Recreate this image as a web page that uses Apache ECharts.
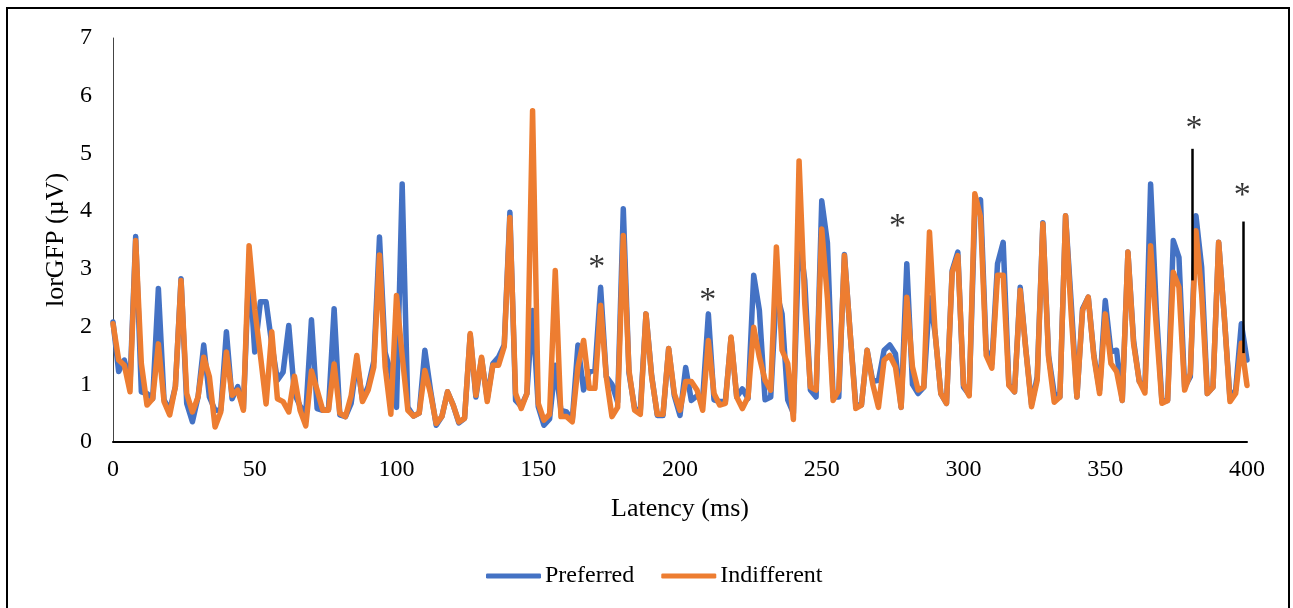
<!DOCTYPE html>
<html>
<head>
<meta charset="utf-8">
<script src="https://cdn.jsdelivr.net/npm/echarts@6/dist/echarts.min.js"></script>
<style>
  html, body { margin: 0; padding: 0; background: #ffffff; }
  #chart { width: 1293px; height: 608px; }
</style>
</head>
<body>
<div id="chart"></div>
<script>
// lorGFP time course, sampled every 2 ms from 0 to 400 ms
const latencyMs = Array.from({ length: 201 }, (_, i) => i * 2);

const preferred = [
  2.08, 1.22, 1.42, 1.00, 3.56, 0.87, 0.84, 0.75, 2.66, 0.73,
  0.55, 0.96, 2.83, 0.67, 0.35, 0.78, 1.68, 0.78, 0.55, 0.55,
  1.91, 0.75, 0.96, 0.58, 3.10, 1.56, 2.43, 2.43, 1.70, 1.07,
  1.21, 2.02, 0.84, 0.62, 0.50, 2.12, 0.58, 0.55, 0.56, 2.31,
  0.47, 0.44, 0.67, 1.40, 0.73, 0.96, 1.40, 3.55, 1.55, 1.20,
  0.60, 4.47, 0.60, 0.45, 0.50, 1.59, 0.90, 0.29, 0.44, 0.87,
  0.64, 0.33, 0.41, 1.86, 0.78, 1.45, 0.75, 1.36, 1.47, 1.68,
  3.98, 0.72, 0.62, 0.84, 2.28, 0.61, 0.29, 0.40, 1.33, 0.55,
  0.52, 0.38, 1.68, 0.90, 1.22, 1.24, 2.68, 1.13, 1.00, 0.69,
  4.04, 1.20, 0.58, 0.55, 2.22, 1.15, 0.46, 0.46, 1.62, 0.80,
  0.46, 1.29, 0.72, 0.80, 0.75, 2.22, 0.73, 0.70, 0.70, 1.80,
  0.78, 0.92, 0.75, 2.89, 2.28, 0.73, 0.78, 2.60, 2.22, 0.73,
  0.50, 3.60, 2.80, 0.90, 0.78, 4.18, 3.45, 0.78, 0.78, 3.25,
  1.90, 0.64, 0.64, 1.59, 1.05, 1.07, 1.59, 1.68, 1.53, 0.60,
  3.09, 1.00, 0.84, 0.95, 2.50, 1.88, 0.84, 0.67, 2.97, 3.29,
  0.95, 0.82, 4.00, 4.20, 1.60, 1.36, 3.09, 3.46, 1.00, 0.87,
  2.68, 1.60, 0.65, 1.13, 3.80, 1.50, 0.84, 0.78, 3.92, 2.40,
  0.78, 2.31, 2.51, 1.50, 0.90, 2.45, 1.56, 1.59, 0.72, 3.29,
  1.75, 1.05, 0.95, 4.47, 2.30, 0.70, 0.72, 3.49, 3.20, 0.95,
  1.13, 3.92, 3.03, 0.84, 0.95, 3.46, 2.17, 0.75, 0.90, 2.05,
  1.42
];

const indifferent = [
  2.05, 1.42, 1.33, 0.87, 3.49, 1.36, 0.64, 0.75, 1.70, 0.70,
  0.47, 0.96, 2.80, 0.84, 0.52, 0.78, 1.47, 1.13, 0.26, 0.52,
  1.56, 0.81, 0.90, 0.55, 3.40, 2.30, 1.50, 0.66, 1.91, 0.75,
  0.70, 0.52, 1.14, 0.55, 0.28, 1.23, 0.90, 0.55, 0.55, 1.35,
  0.50, 0.44, 0.80, 1.50, 0.70, 0.90, 1.30, 3.24, 1.30, 0.48,
  2.54, 1.50, 0.55, 0.45, 0.50, 1.24, 0.84, 0.32, 0.44, 0.87,
  0.64, 0.35, 0.41, 1.88, 0.81, 1.47, 0.70, 1.33, 1.33, 1.65,
  3.89, 0.84, 0.58, 0.84, 5.74, 0.67, 0.38, 0.48, 2.97, 0.44,
  0.44, 0.35, 1.30, 1.76, 0.93, 0.93, 2.37, 1.13, 0.44, 0.60,
  3.58, 1.24, 0.55, 0.48, 2.22, 1.13, 0.48, 0.48, 1.62, 0.84,
  0.55, 1.05, 1.05, 0.90, 0.55, 1.76, 0.84, 0.64, 0.67, 1.82,
  0.78, 0.58, 0.78, 1.99, 1.47, 1.07, 0.90, 3.38, 1.59, 1.36,
  0.39, 4.87, 2.40, 0.95, 0.90, 3.69, 2.50, 0.72, 0.90, 3.23,
  1.90, 0.58, 0.64, 1.59, 1.00, 0.60, 1.42, 1.50, 1.30, 0.60,
  2.51, 1.30, 0.90, 0.95, 3.64, 1.88, 0.84, 0.67, 2.94, 3.23,
  1.00, 0.80, 4.30, 3.90, 1.50, 1.28, 2.89, 2.89, 0.98, 0.87,
  2.63, 1.59, 0.61, 1.07, 3.78, 1.47, 0.69, 0.78, 3.92, 2.20,
  0.78, 2.28, 2.51, 1.47, 0.84, 2.22, 1.36, 1.22, 0.72, 3.29,
  1.70, 1.05, 0.85, 3.40, 2.00, 0.67, 0.72, 2.94, 2.68, 0.90,
  1.19, 3.66, 2.57, 0.84, 0.95, 3.46, 2.17, 0.70, 0.84, 1.71,
  0.98
];

// significance markers (asterisks) and the two difference bars
const starLatency = [170.6, 209.8, 276.7, 381.3, 398.3];
const starLevel = [3.12, 2.55, 3.82, 5.52, 4.37];
const barLatency = [380.8, 398.7];
const barTop = [5.08, 3.82];
const barBottom = [2.80, 1.54];

const xTicks = [0, 50, 100, 150, 200, 250, 300, 350, 400];
const yTicks = [0, 1, 2, 3, 4, 5, 6, 7];

const FONT = '"Liberation Serif", "Times New Roman", serif';
const pair = (vals) => vals.map((v, i) => [latencyMs[i], v]);

const chart = echarts.init(document.getElementById('chart'), null, { renderer: 'canvas' });

chart.setOption({
  animation: false,
  backgroundColor: '#ffffff',
  textStyle: { fontFamily: FONT, color: '#000' },
  grid: { left: 113, right: 46, top: 38, bottom: 166, containLabel: false },
  xAxis: {
    type: 'value',
    min: xTicks[0],
    max: xTicks[xTicks.length - 1],
    interval: xTicks[1] - xTicks[0],
    name: 'Latency (ms)',
    nameLocation: 'middle',
    nameGap: 54,
    nameTextStyle: { fontFamily: FONT, fontSize: 26, color: '#000' },
    axisLine: { show: true, onZero: false, lineStyle: { color: '#000', width: 2 } },
    axisTick: { show: false },
    splitLine: { show: false },
    axisLabel: { fontFamily: FONT, fontSize: 24, color: '#000', margin: 16 }
  },
  yAxis: {
    type: 'value',
    min: yTicks[0],
    max: yTicks[yTicks.length - 1],
    interval: 1,
    name: 'lorGFP (µV)',
    nameLocation: 'middle',
    nameRotate: 90,
    nameGap: 39,
    nameTextStyle: { fontFamily: FONT, fontSize: 26, color: '#000' },
    axisLine: { show: true, lineStyle: { color: '#444', width: 1 } },
    axisTick: { show: false },
    splitLine: { show: false },
    axisLabel: { fontFamily: FONT, fontSize: 24, color: '#000', margin: 21 }
  },
  legend: {
    data: ['Preferred', 'Indifferent'],
    left: 486,
    top: 564,
    padding: 0,
    icon: 'roundRect',
    itemWidth: 55,
    itemHeight: 5,
    itemGap: 27,
    textStyle: { fontFamily: FONT, fontSize: 24, color: '#000', padding: [0, 0, 0, -1] }
  },
  series: [
    {
      name: 'Preferred',
      type: 'line',
      data: pair(preferred),
      showSymbol: false,
      symbol: 'none',
      color: '#4472C4',
      lineStyle: { color: '#4472C4', width: 5.5, cap: 'round', join: 'round' },
      z: 2
    },
    {
      name: 'Indifferent',
      type: 'line',
      data: pair(indifferent),
      showSymbol: false,
      symbol: 'none',
      color: '#ED7D31',
      lineStyle: { color: '#ED7D31', width: 5.5, cap: 'round', join: 'round' },
      z: 3
    },
    {
      name: 'significance',
      type: 'scatter',
      data: starLatency.map((x, i) => [x, starLevel[i]]),
      symbolSize: 0,
      silent: true,
      z: 5,
      label: {
        show: true,
        position: 'inside',
        formatter: '*',
        fontFamily: FONT,
        fontSize: 34,
        color: '#000',
        offset: [0, 6]
      },
      markLine: {
        silent: true,
        symbol: ['none', 'none'],
        label: { show: false },
        lineStyle: { color: '#000', width: 2.5, type: 'solid' },
        data: barLatency.map((x, i) => [
          { coord: [x, barTop[i]] },
          { coord: [x, barBottom[i]] }
        ])
      }
    }
  ],
  graphic: [
    {
      type: 'rect',
      silent: true,
      shape: { x: 7, y: 8, width: 1282, height: 610 },
      style: { fill: 'none', stroke: '#000', lineWidth: 2 },
      z: 10
    }
  ]
});
</script>
</body>
</html>
